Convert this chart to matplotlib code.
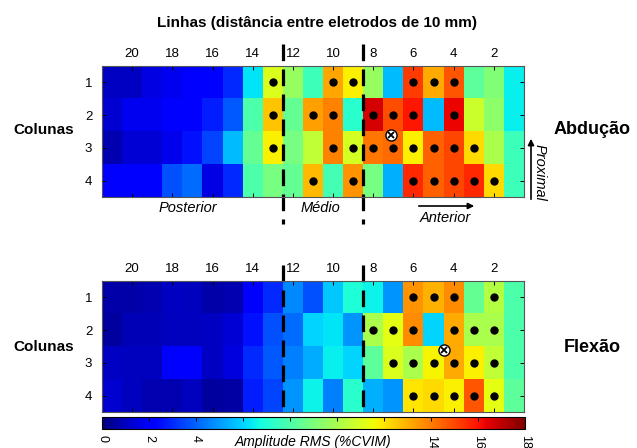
import numpy as np
import matplotlib
matplotlib.use('Agg')
import matplotlib.pyplot as plt

plt.rcParams['font.family'] = ['Liberation Sans', 'DejaVu Sans']
plt.rcParams['lines.scale_dashes'] = False

# electrode columns from left (21) to right (1), rows 1..4
colunas_x = list(range(21, 0, -1))
linhas_y = [1, 2, 3, 4]
x_ticks = [20, 18, 16, 14, 12, 10, 8, 6, 4, 2]

# RMS amplitude (%CVIM), abduction
abducao = [
    [1.1, 1.1, 1.6, 1.8, 2.0, 2.1, 3.0, 6.3, 11.1, 9.6, 7.6, 13.2, 11.8, 9.6, 5.6, 15.2, 13.1, 14.7, 8.3, 9.1, 6.5],
    [1.3, 1.8, 1.8, 2.0, 2.0, 2.8, 3.8, 8.0, 12.6, 8.5, 13.3, 13.9, 7.2, 16.6, 14.9, 15.9, 5.6, 16.3, 10.7, 9.4, 6.5],
    [0.8, 1.4, 1.4, 1.7, 2.6, 3.5, 5.6, 8.5, 11.8, 8.9, 10.5, 13.9, 10.9, 14.1, 14.3, 11.8, 14.5, 15.0, 12.2, 10.0, 7.6],
    [2.0, 2.0, 2.0, 3.7, 4.2, 1.6, 3.0, 8.0, 8.9, 8.5, 12.8, 7.8, 13.5, 8.9, 5.4, 15.6, 14.5, 15.0, 15.6, 12.2, 7.6],
]

# RMS amplitude (%CVIM), flexion
flexao = [
    [0.7, 0.7, 0.8, 1.1, 1.0, 0.7, 0.8, 2.0, 3.0, 4.7, 3.7, 5.8, 7.0, 6.6, 4.9, 13.5, 13.0, 13.7, 8.5, 10.2, 8.0],
    [0.5, 0.9, 0.9, 1.0, 1.0, 1.1, 1.4, 2.6, 3.7, 4.2, 6.0, 6.3, 4.9, 10.0, 11.3, 13.7, 6.0, 13.1, 10.0, 10.0, 8.0],
    [1.1, 1.0, 1.0, 2.0, 2.0, 1.1, 1.5, 3.0, 3.8, 4.5, 5.3, 6.5, 6.0, 8.3, 11.1, 10.0, 11.7, 13.1, 11.8, 10.5, 8.0],
    [1.3, 1.0, 0.8, 0.8, 1.0, 0.5, 0.6, 2.8, 3.5, 4.9, 6.6, 4.5, 7.2, 5.4, 4.9, 12.0, 12.2, 11.8, 14.7, 11.3, 8.3],
]

# active electrodes (column, row)
abd_dot_col = [13, 10, 9, 6, 5, 4,
               13, 11, 10, 8, 7, 6, 4,
               13, 10, 9, 8, 7, 6, 5, 4, 3,
               11, 9, 6, 5, 4, 3, 2]
abd_dot_row = [1] * 6 + [2] * 7 + [3] * 9 + [4] * 7
flx_dot_col = [6, 5, 4, 2,
               8, 7, 6, 4, 3, 2,
               7, 6, 5, 4, 3, 2,
               6, 5, 4, 3, 2]
flx_dot_row = [1] * 4 + [2] * 6 + [3] * 6 + [4] * 5

# centroid of activity (column, row)
abd_centro = (7.1, 2.62)
flx_centro = (4.5, 2.6)

# zone boundaries between columns
limites = [12.5, 8.5]

W, H = 637, 448
fig = plt.figure(figsize=(W / 100, H / 100), dpi=100)


def px(x, y):
    return x / W, 1 - y / H


ax1 = fig.add_axes([102 / W, (H - 197) / H, 422 / W, 131 / H])
ax2 = fig.add_axes([102 / W, (H - 412) / H, 422 / W, 131 / H])

ext = (colunas_x[0] + 0.5, colunas_x[-1] - 0.5, linhas_y[-1] + 0.5, linhas_y[0] - 0.5)
for ax, dados, dc, dr, centro, yl in [
        (ax1, abducao, abd_dot_col, abd_dot_row, abd_centro, (-0.17, 5.32)),
        (ax2, flexao, flx_dot_col, flx_dot_row, flx_centro, (0.01, 4.53))]:
    im = ax.imshow(np.array(dados), cmap='jet', vmin=0, vmax=18, extent=ext,
                   aspect='auto', interpolation='nearest')
    ax.plot(dc, dr, 'o', color='k', ms=5, ls='none')
    ax.plot(centro[0], centro[1], 'o', mfc='white', mec='k', mew=1.0, ms=8)
    ax.plot(centro[0], centro[1], 'x', color='k', mew=1.3, ms=5)
    for xl in limites:
        ax.plot([xl, xl], yl, color='k', lw=2.3, dashes=(12, 6), clip_on=False)
    ax.set_xlim(ext[0], ext[1])
    ax.set_ylim(ext[2], ext[3])
    ax.set_xticks(x_ticks)
    ax.set_yticks(linhas_y)
    ax.tick_params(axis='x', top=True, bottom=True, labeltop=True, labelbottom=False,
                   direction='in', length=3, width=0.7, pad=4, labelsize=9.5)
    ax.tick_params(axis='y', left=True, right=True, direction='in', length=3,
                   width=0.7, pad=7, labelsize=9.5)
    for s in ax.spines.values():
        s.set_color('#555555')
        s.set_linewidth(0.8)

cax = fig.add_axes([102 / W, (H - 429) / H, 423 / W, 12 / H])
cb = fig.colorbar(im, cax=cax, orientation='horizontal', ticks=list(range(0, 19, 2)))
cb.set_ticklabels(['0', '2', '4', '', '', '', '', '14', '16', '18'])
cax.tick_params(axis='x', top=True, bottom=False, direction='in', length=3,
                width=0.7, pad=4, labelsize=9, labelrotation=-90)
cb.outline.set_linewidth(0.8)

fig.text(*px(317, 23), 'Linhas (distância entre eletrodos de 10 mm)', ha='center',
         va='center', fontsize=11, fontweight='bold')
fig.text(*px(44, 130), 'Colunas', ha='center', va='center', fontsize=11, fontweight='bold')
fig.text(*px(44, 347), 'Colunas', ha='center', va='center', fontsize=11, fontweight='bold')
fig.text(*px(592, 130), 'Abdução', ha='center', va='center', fontsize=13, fontweight='bold')
fig.text(*px(592, 347), 'Flexão', ha='center', va='center', fontsize=13, fontweight='bold')
fig.text(*px(188, 208), 'Posterior', ha='center', va='center', fontsize=10.5, style='italic')
fig.text(*px(320, 208), 'Médio', ha='center', va='center', fontsize=10.5, style='italic')
fig.text(*px(445, 218), 'Anterior', ha='center', va='center', fontsize=10.5, style='italic')
fig.text(*px(540, 172), 'Proximal', ha='center', va='center', fontsize=10.5,
         style='italic', rotation=-90)
fig.text(*px(313, 442), 'Amplitude RMS (%CVIM)', ha='center', va='center',
         fontsize=10, style='italic')

ax1.annotate('', xy=px(477, 206), xytext=px(416, 206), xycoords='figure fraction',
             textcoords='figure fraction', annotation_clip=False,
             arrowprops=dict(arrowstyle='-|>', color='k', lw=1.2, mutation_scale=9))
ax1.annotate('', xy=px(531, 136), xytext=px(531, 202), xycoords='figure fraction',
             textcoords='figure fraction', annotation_clip=False,
             arrowprops=dict(arrowstyle='-|>', color='k', lw=1.2, mutation_scale=9))

fig.savefig('out.png', dpi=100)
